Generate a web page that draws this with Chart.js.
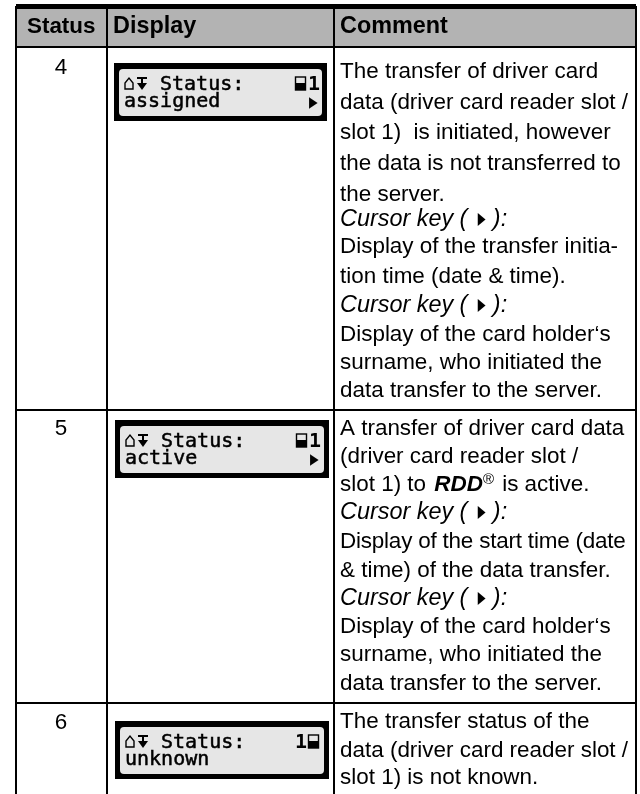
<!DOCTYPE html>
<html>
<head>
<meta charset="utf-8">
<title>Status table</title>
<script src="https://cdn.jsdelivr.net/npm/chart.js@4"></script>
<style>
html, body { margin: 0; padding: 0; background: #fff; }
canvas { display: block; }
</style>
</head>
<body>
<canvas id="chart" width="640" height="794"></canvas>
<script>
// table content
var headers = ['Status', 'Display', 'Comment'];
var statuses = ['4', '5', '6'];
var displayTitle = 'Status:';
var displayStates = ['assigned', 'active', 'unknown'];
var displaySlots = ['1', '1', '1'];
var comments = [
    'The transfer of driver card',
    'data (driver card reader slot /',
    'slot 1)  is initiated, however',
    'the data is not transferred to',
    'the server.',
    'Cursor key ( ▶ ):',
    'Display of the transfer initia-',
    'tion time (date & time).',
    'Cursor key ( ▶ ):',
    'Display of the card holder‘s',
    'surname, who initiated the',
    'data transfer to the server.',
    'A transfer of driver card data',
    '(driver card reader slot /',
    'slot 1) to RDD® is active.',
    'Cursor key ( ▶ ):',
    'Display of the start time (date',
    '& time) of the data transfer.',
    'Cursor key ( ▶ ):',
    'Display of the card holder‘s',
    'surname, who initiated the',
    'data transfer to the server.',
    'The transfer status of the',
    'data (driver card reader slot /',
    'slot 1) is not known.'
];

// layout, in page pixels (the scales run 1:1 with the page)
var columnEdges = [16, 107, 334, 636];
var rowEdges = [6, 47, 410, 703];
var headerBottom = 46;
var headerX = [27, 113, 340];
var headerSizes = [22.4, 23.4, 23.4];
var headerBaseline = 33;
var statusCenter = 61;
var statusBaselines = [74, 435, 729];
var panelLefts = [114, 115, 115];
var panelWidths = [213, 214, 214];
var panelTops = [63, 420, 721];
var commentX = 340;
var commentBaselines = [78, 109, 139, 170, 201, 226, 253, 283, 312, 341, 369, 397,
    435, 463, 491, 519, 548, 577, 605, 633, 661, 690, 728, 757, 784];
// this line is set a little tighter in the original
var tightLine = 16;

var SANS = '"Liberation Sans", Arial, sans-serif';
var MONO = '"DejaVu Sans Mono", monospace';
var BODY_SIZE = 22.45;
var ITALIC_SIZE = 23.4;

function drawCommentLine(ctx, line, x, y, tight) {
    var italic = line.indexOf('Cursor key') === 0;
    var parts = line.split(/(RDD|®|▶)/);
    ctx.textAlign = 'left';
    ctx.letterSpacing = tight ? '-0.2px' : '0px';
    parts.forEach(function(part) {
        if (!part) return;
        if (part === 'RDD') {
            ctx.font = 'italic bold ' + BODY_SIZE + 'px ' + SANS;
            ctx.fillText(part, x + 2, y);
            x += ctx.measureText(part).width + 2;
        } else if (part === '®') {
            ctx.font = '15px ' + SANS;
            ctx.fillText(part, x, y - 7);
            x += ctx.measureText(part).width + 2;
        } else if (part === '▶') {
            // squeezed to the narrow triangle of the original
            ctx.save();
            ctx.font = '17px "DejaVu Sans"';
            ctx.translate(x + 4, y - 2.5);
            ctx.scale(0.6, 1);
            ctx.fillText(part, 0, 0);
            ctx.restore();
            x += 12.5;
        } else {
            ctx.font = italic ? 'italic ' + ITALIC_SIZE + 'px ' + SANS : BODY_SIZE + 'px ' + SANS;
            ctx.fillText(part, x, y);
            x += ctx.measureText(part).width;
        }
    });
    ctx.letterSpacing = '0px';
}

// the small display with its two text lines and symbols
function drawPanel(ctx, xs, ys, i) {
    var left = xs.getPixelForValue(panelLefts[i]);
    var top = ys.getPixelForValue(panelTops[i]);
    ctx.fillStyle = '#000';
    ctx.fillRect(left, top, panelWidths[i], 58);
    ctx.fillStyle = '#e6e6e6';
    ctx.beginPath();
    ctx.roundRect(left + 5, top + 6, panelWidths[i] - 10, 47, 4);
    ctx.fill();

    ctx.fillStyle = '#000';
    ctx.strokeStyle = '#000';
    ctx.font = '20px ' + MONO;
    ctx.textAlign = 'left';
    ctx.fillText(displayTitle, left + 46, top + 27);
    ctx.fillText(displayStates[i], left + 10, top + 44);
    ctx.lineWidth = 0.5;
    ctx.strokeText(displayTitle, left + 46, top + 27);
    ctx.strokeText(displayStates[i], left + 10, top + 44);

    // home symbol
    ctx.lineWidth = 1.4;
    ctx.beginPath();
    ctx.moveTo(left + 11, top + 26);
    ctx.lineTo(left + 11, top + 20);
    ctx.lineTo(left + 15, top + 15);
    ctx.lineTo(left + 19, top + 20);
    ctx.lineTo(left + 19, top + 26);
    ctx.closePath();
    ctx.stroke();
    // down arrow with bar
    ctx.fillRect(left + 23, top + 14, 10, 2);
    ctx.fillRect(left + 27, top + 14, 2, 7);
    ctx.beginPath();
    ctx.moveTo(left + 23, top + 20);
    ctx.lineTo(left + 33, top + 20);
    ctx.lineTo(left + 28, top + 27);
    ctx.closePath();
    ctx.fill();

    // card slot symbol; the third row has it swapped with the number
    var unknown = i === 2;
    var cardX = left + (unknown ? 193 : 181);
    ctx.lineWidth = 1.4;
    ctx.strokeRect(cardX + 0.5, top + 14, 10, 13);
    ctx.fillRect(cardX + 0.5, top + 20, 10, 7);
    ctx.font = 'bold 20px ' + MONO;
    ctx.fillText(displaySlots[i], left + (unknown ? 180 : 194), top + 27);

    if (!unknown) {
        ctx.save();
        ctx.font = '15px "DejaVu Sans"';
        ctx.translate(left + 195, top + 44);
        ctx.scale(0.75, 1);
        ctx.fillText('▶', 0, 0);
        ctx.restore();
    }
}

var tablePlugin = {
    id: 'tablePlugin',
    afterDraw: function(chart) {
        var ctx = chart.ctx;
        var xs = chart.scales.x;
        var ys = chart.scales.y;
        ctx.save();
        ctx.fillStyle = '#000';
        ctx.textBaseline = 'alphabetic';

        ctx.textAlign = 'left';
        headers.forEach(function(h, i) {
            ctx.font = 'bold ' + headerSizes[i] + 'px ' + SANS;
            ctx.fillText(h, xs.getPixelForValue(headerX[i]), ys.getPixelForValue(headerBaseline));
        });

        ctx.font = BODY_SIZE + 'px ' + SANS;
        ctx.textAlign = 'center';
        statuses.forEach(function(s, i) {
            ctx.fillText(s, xs.getPixelForValue(statusCenter), ys.getPixelForValue(statusBaselines[i]));
        });

        comments.forEach(function(line, i) {
            drawCommentLine(ctx, line, xs.getPixelForValue(commentX), ys.getPixelForValue(commentBaselines[i]), i === tightLine);
        });

        statuses.forEach(function(s, i) {
            drawPanel(ctx, xs, ys, i);
        });
        ctx.restore();
    }
};

var config = {
    type: 'scatter',
    data: {
        datasets: [{
            // grey header band
            data: [{ x: columnEdges[0], y: rowEdges[0] }, { x: columnEdges[3], y: rowEdges[0] }],
            showLine: true,
            borderWidth: 0,
            pointRadius: 0,
            backgroundColor: '#b3b3b3',
            fill: { value: headerBottom }
        }]
    },
    plugins: [tablePlugin],
    options: {
        responsive: false,
        animation: false,
        layout: { padding: { left: 16, right: 4, top: 6, bottom: 0 } },
        plugins: { legend: { display: false }, tooltip: { enabled: false }, title: { display: false } },
        scales: {
            x: {
                type: 'linear',
                min: 16,
                max: 636,
                afterBuildTicks: function(axis) {
                    axis.ticks = columnEdges.map(function(v) { return { value: v }; });
                },
                ticks: { display: false },
                border: { display: false },
                grid: { color: '#000', lineWidth: 2, drawTicks: false, z: 1 }
            },
            y: {
                type: 'linear',
                reverse: true,
                min: 6,
                max: 794,
                afterBuildTicks: function(axis) {
                    axis.ticks = rowEdges.map(function(v) { return { value: v }; });
                },
                ticks: { display: false },
                border: { display: false },
                grid: {
                    color: '#000',
                    lineWidth: function(c) { return c.index === 0 ? 5 : 2; },
                    drawTicks: false,
                    z: 1
                }
            }
        }
    }
};

window.onload = function() {
    var ctx = document.getElementById('chart').getContext('2d');
    window.myTable = new Chart(ctx, config);
};
</script>
</body>
</html>
